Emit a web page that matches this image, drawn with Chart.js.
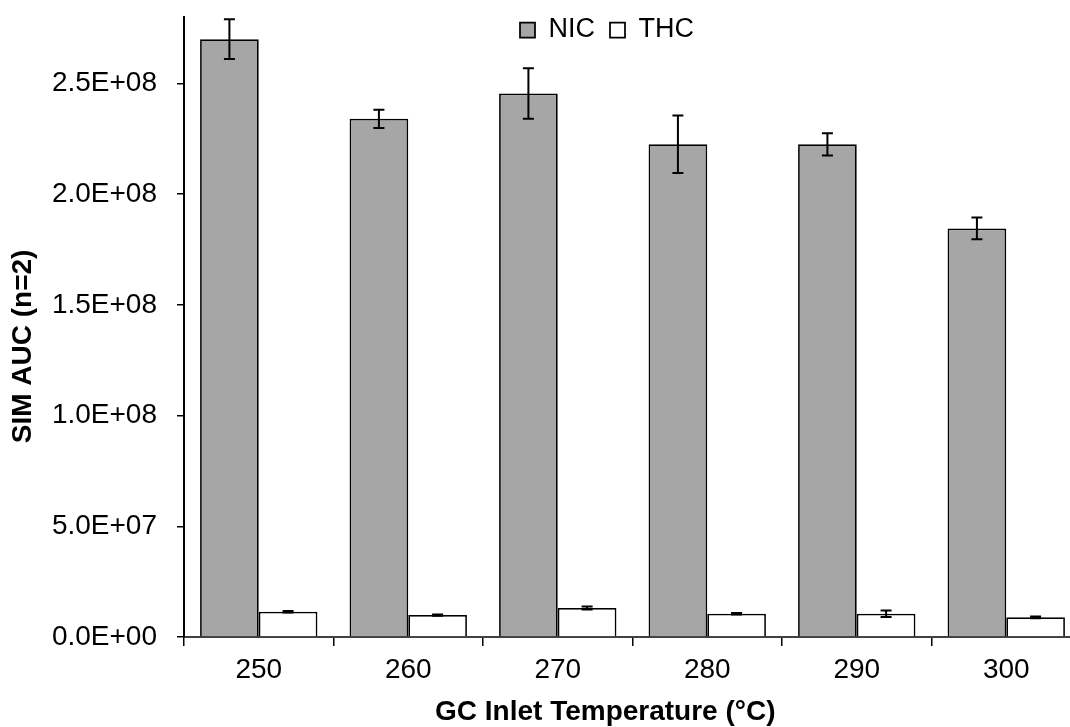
<!DOCTYPE html>
<html>
<head>
<meta charset="utf-8">
<script src="https://cdn.jsdelivr.net/npm/chart.js@4.4.1/dist/chart.umd.min.js"></script>
<style>
  html, body { margin: 0; padding: 0; background: #ffffff; overflow: hidden; }
  #wrap { width: 1070px; height: 727px; overflow: hidden; }
  canvas { display: block; }
</style>
</head>
<body>
<div id="wrap"><canvas id="c" width="1090" height="727" style="width:1090px;height:727px"></canvas></div>
<script>
// ---- data ----
const categories = ['250', '260', '270', '280', '290', '300'];
const nicValues  = [2.70e8, 2.34e8, 2.455e8, 2.225e8, 2.225e8, 1.845e8];
const nicErrors  = [9.0e6, 4.1e6, 1.14e7, 1.30e7, 5.0e6, 4.9e6];
const thcValues  = [1.14e7, 9.9e6, 1.31e7, 1.05e7, 1.05e7, 8.9e6];
const thcErrors  = [3e5, 3e5, 7e5, 3e5, 1.5e6, 4e5];
const yTickValues = [0, 5e7, 1e8, 1.5e8, 2e8, 2.5e8];
const seriesNames = ['NIC', 'THC'];
const xTitle = 'GC Inlet Temperature (°C)';
const yTitle = 'SIM AUC (n=2)';

const FONT = "'Liberation Sans', Arial, sans-serif";

function sci(v) {
  if (v === 0) return '0.0E+00';
  const e = Math.floor(Math.log10(Math.abs(v)) + 1e-9);
  const m = v / Math.pow(10, e);
  return m.toFixed(1) + 'E' + (e >= 0 ? '+' : '-') + String(Math.abs(e)).padStart(2, '0');
}

const errorBars = {
  id: 'errorBars',
  afterDatasetsDraw(chart) {
    const ctx = chart.ctx;
    const y = chart.scales.y;
    const errs = [nicErrors, thcErrors];
    ctx.save();
    ctx.strokeStyle = '#000';
    ctx.lineWidth = 2;
    chart.data.datasets.forEach((ds, di) => {
      const meta = chart.getDatasetMeta(di);
      meta.data.forEach((bar, i) => {
        const v = ds.data[i], e = errs[di][i];
        const x = bar.x;
        const yTop = y.getPixelForValue(v + e);
        const yBot = y.getPixelForValue(v - e);
        const cap = 5.5;
        ctx.beginPath();
        ctx.moveTo(x, yTop); ctx.lineTo(x, yBot);
        ctx.moveTo(x - cap, yTop); ctx.lineTo(x + cap, yTop);
        ctx.moveTo(x - cap, yBot); ctx.lineTo(x + cap, yBot);
        ctx.stroke();
      });
    });
    ctx.restore();
  }
};

// place the (zero-height) legend over the plot, like the original
const legendPlace = {
  id: 'legendPlace',
  afterLayout(chart) {
    const lg = chart.legend;
    if (!lg) return;
    lg.left = 505; lg.right = 900;
    lg.top = 1.5; lg.bottom = 70;
  }
};

new Chart(document.getElementById('c'), {
  type: 'bar',
  data: {
    labels: categories,
    datasets: [
      { label: seriesNames[0], data: nicValues, backgroundColor: '#a6a6a6', borderColor: '#000', borderWidth: 1.75 },
      { label: seriesNames[1], data: thcValues, backgroundColor: '#ffffff', borderColor: '#000', borderWidth: 1.75 }
    ]
  },
  options: {
    responsive: false,
    animation: false,
    devicePixelRatio: 1,
    layout: { padding: { left: 0, right: 9, top: 16, bottom: 0 } },
    datasets: { bar: { categoryPercentage: 0.785, barPercentage: 1.0 } },
    plugins: {
      legend: {
        position: 'top',
        align: 'start',
        maxHeight: 1,
        labels: {
          boxWidth: 15, boxHeight: 15, padding: 15,
          color: '#000',
          font: { family: FONT, size: 27 }
        }
      },
      tooltip: { enabled: false }
    },
    scales: {
      x: {
        grid: { display: true, drawOnChartArea: false, offset: true, color: '#000', lineWidth: 1.5, tickLength: 9 },
        border: { display: true, color: '#404040', width: 2 },
        ticks: { color: '#000', padding: 7, font: { family: FONT, size: 28 } },
        title: { display: true, text: xTitle + '       ', color: '#000', padding: { top: 0, bottom: -2 }, font: { family: FONT, size: 28, weight: 'bold' } },
        afterFit(s) { s.height = 90; }
      },
      y: {
        min: 0, max: 2.8e8,
        afterBuildTicks(s) { s.ticks = yTickValues.map(v => ({ value: v })); },
        grid: { display: true, drawOnChartArea: false, color: '#000', lineWidth: 1.5, tickLength: 7 },
        border: { display: true, color: '#000', width: 2 },
        ticks: { color: '#000', padding: 20, font: { family: FONT, size: 28 }, callback: (v) => sci(v) },
        title: { display: true, text: yTitle + '     ', color: '#000', padding: { top: 6, bottom: 0 }, font: { family: FONT, size: 28, weight: 'bold' } },
        afterFit(s) { s.width = 184; s.paddingTop = 0; s.paddingBottom = 0; }
      }
    }
  },
  plugins: [errorBars, legendPlace]
});
</script>
</body>
</html>
